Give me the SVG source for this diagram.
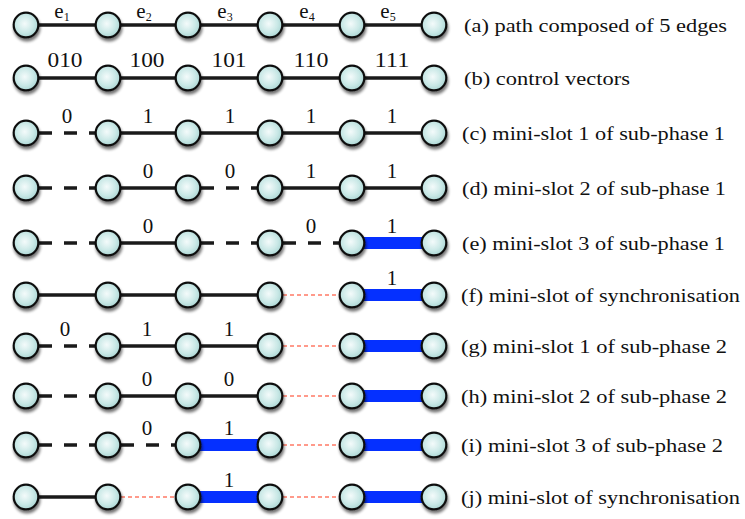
<svg xmlns="http://www.w3.org/2000/svg" width="745" height="519" viewBox="0 0 745 519">
<defs>
<radialGradient id="nf" cx="0.45" cy="0.45" r="0.6">
<stop offset="0" stop-color="#f4fbfb"/>
<stop offset="0.6" stop-color="#c9e8e6"/>
<stop offset="1" stop-color="#a6d3d1"/>
</radialGradient>
<filter id="sh" x="-50%" y="-50%" width="200%" height="200%">
<feGaussianBlur in="SourceAlpha" stdDeviation="1.6"/>
<feOffset dx="1" dy="3" result="b"/>
<feComponentTransfer in="b" result="c"><feFuncA type="linear" slope="0.55"/></feComponentTransfer>
<feMerge><feMergeNode in="c"/><feMergeNode in="SourceGraphic"/></feMerge>
</filter>
<g id="n"><circle r="12.3" fill="url(#nf)" stroke="#111" stroke-width="2.2" filter="url(#sh)"/></g>
</defs>
<style>
.s{stroke:#1a1a1a;stroke-width:3.5;fill:none}
.d{stroke:#1a1a1a;stroke-width:3.5;fill:none;stroke-dasharray:13 12}
.r{stroke:#ff7a66;stroke-width:1.5;fill:none;stroke-dasharray:4 3}
.b{stroke:#0530ff;stroke-width:12;fill:none}
.el{font-size:21px;fill:#111;text-anchor:middle}
.lb{font-size:19px;fill:#111}
</style>
<g id="connectors">
<path class="s" d="M26 25H434"/>
<path class="s" d="M26 78H434"/>
<path class="d" d="M39 133H95"/><path class="s" d="M108 133H434"/>
<path class="d" d="M39 188H95"/><path class="s" d="M108 188H188"/><path class="d" d="M201 188H257"/><path class="s" d="M270 188H434"/>
<path class="d" d="M39 243H95"/><path class="s" d="M108 243H188"/><path class="d" d="M201 243H257"/><path class="d" d="M283 243H339"/><path class="b" d="M352 243H434"/>
<path class="s" d="M26 295H270"/><path class="r" d="M283 295H339"/><path class="b" d="M352 295H434"/>
<path class="d" d="M39 346H95"/><path class="s" d="M108 346H270"/><path class="r" d="M283 346H339"/><path class="b" d="M352 346H434"/>
<path class="d" d="M39 396H95"/><path class="s" d="M108 396H270"/><path class="r" d="M283 396H339"/><path class="b" d="M352 396H434"/>
<path class="d" d="M39 445H95"/><path class="d" d="M121 445H177"/><path class="b" d="M188 445H270"/><path class="r" d="M283 445H339"/><path class="b" d="M352 445H434"/>
<path class="s" d="M26 497H108"/><path class="r" d="M121 497H175"/><path class="b" d="M188 497H270"/><path class="r" d="M283 497H339"/><path class="b" d="M352 497H434"/>
</g>
<g id="edge-labels" font-family="'Nimbus Roman', 'Nimbus Roman No9 L', Tinos, FreeSerif, 'DejaVu Serif', serif">
<text class="el" x="62" y="18" font-size="19">e<tspan font-size="12" dy="3">1</tspan></text>
<text class="el" x="144" y="18" font-size="19">e<tspan font-size="12" dy="3">2</tspan></text>
<text class="el" x="225" y="18" font-size="19">e<tspan font-size="12" dy="3">3</tspan></text>
<text class="el" x="307" y="18" font-size="19">e<tspan font-size="12" dy="3">4</tspan></text>
<text class="el" x="388" y="18" font-size="19">e<tspan font-size="12" dy="3">5</tspan></text>
<text class="el" x="65" y="67" textLength="35" lengthAdjust="spacingAndGlyphs">010</text>
<text class="el" x="147" y="67" textLength="35" lengthAdjust="spacingAndGlyphs">100</text>
<text class="el" x="229" y="67" textLength="35" lengthAdjust="spacingAndGlyphs">101</text>
<text class="el" x="311" y="67" textLength="35" lengthAdjust="spacingAndGlyphs">110</text>
<text class="el" x="392" y="67" textLength="35" lengthAdjust="spacingAndGlyphs">111</text>
<text class="el" x="67" y="123">0</text>
<text class="el" x="148" y="123">1</text>
<text class="el" x="230" y="123">1</text>
<text class="el" x="311" y="123">1</text>
<text class="el" x="392" y="123">1</text>
<text class="el" x="148" y="178">0</text>
<text class="el" x="230" y="178">0</text>
<text class="el" x="311" y="178">1</text>
<text class="el" x="392" y="178">1</text>
<text class="el" x="148" y="233">0</text>
<text class="el" x="311" y="233">0</text>
<text class="el" x="392" y="233">1</text>
<text class="el" x="392" y="285">1</text>
<text class="el" x="65" y="336">0</text>
<text class="el" x="147" y="336">1</text>
<text class="el" x="229" y="336">1</text>
<text class="el" x="147" y="386">0</text>
<text class="el" x="229" y="386">0</text>
<text class="el" x="147" y="435">0</text>
<text class="el" x="229" y="435">1</text>
<text class="el" x="229" y="487">1</text>
</g>
<g id="nodes">
<g id="row-a"><use href="#n" x="26" y="25"/><use href="#n" x="108" y="25"/><use href="#n" x="188" y="25"/><use href="#n" x="270" y="25"/><use href="#n" x="352" y="25"/><use href="#n" x="434" y="25"/></g>
<g id="row-b"><use href="#n" x="26" y="78"/><use href="#n" x="108" y="78"/><use href="#n" x="188" y="78"/><use href="#n" x="270" y="78"/><use href="#n" x="352" y="78"/><use href="#n" x="434" y="78"/></g>
<g id="row-c"><use href="#n" x="26" y="133"/><use href="#n" x="108" y="133"/><use href="#n" x="188" y="133"/><use href="#n" x="270" y="133"/><use href="#n" x="352" y="133"/><use href="#n" x="434" y="133"/></g>
<g id="row-d"><use href="#n" x="26" y="188"/><use href="#n" x="108" y="188"/><use href="#n" x="188" y="188"/><use href="#n" x="270" y="188"/><use href="#n" x="352" y="188"/><use href="#n" x="434" y="188"/></g>
<g id="row-e"><use href="#n" x="26" y="243"/><use href="#n" x="108" y="243"/><use href="#n" x="188" y="243"/><use href="#n" x="270" y="243"/><use href="#n" x="352" y="243"/><use href="#n" x="434" y="243"/></g>
<g id="row-f"><use href="#n" x="26" y="295"/><use href="#n" x="108" y="295"/><use href="#n" x="188" y="295"/><use href="#n" x="270" y="295"/><use href="#n" x="352" y="295"/><use href="#n" x="434" y="295"/></g>
<g id="row-g"><use href="#n" x="26" y="346"/><use href="#n" x="108" y="346"/><use href="#n" x="188" y="346"/><use href="#n" x="270" y="346"/><use href="#n" x="352" y="346"/><use href="#n" x="434" y="346"/></g>
<g id="row-h"><use href="#n" x="26" y="396"/><use href="#n" x="108" y="396"/><use href="#n" x="188" y="396"/><use href="#n" x="270" y="396"/><use href="#n" x="352" y="396"/><use href="#n" x="434" y="396"/></g>
<g id="row-i"><use href="#n" x="26" y="445"/><use href="#n" x="108" y="445"/><use href="#n" x="188" y="445"/><use href="#n" x="270" y="445"/><use href="#n" x="352" y="445"/><use href="#n" x="434" y="445"/></g>
<g id="row-j"><use href="#n" x="26" y="497"/><use href="#n" x="108" y="497"/><use href="#n" x="188" y="497"/><use href="#n" x="270" y="497"/><use href="#n" x="352" y="497"/><use href="#n" x="434" y="497"/></g>
</g>
<g id="captions" font-family="'Nimbus Roman', 'Nimbus Roman No9 L', Tinos, FreeSerif, 'DejaVu Serif', serif">
<text class="lb" x="464" y="32" textLength="263" lengthAdjust="spacingAndGlyphs">(a) path composed of 5 edges</text>
<text class="lb" x="464" y="85" textLength="166" lengthAdjust="spacingAndGlyphs">(b) control vectors</text>
<text class="lb" x="462" y="140" textLength="263" lengthAdjust="spacingAndGlyphs">(c) mini-slot 1 of sub-phase 1</text>
<text class="lb" x="462" y="195" textLength="264" lengthAdjust="spacingAndGlyphs">(d) mini-slot 2 of sub-phase 1</text>
<text class="lb" x="462" y="250" textLength="263" lengthAdjust="spacingAndGlyphs">(e) mini-slot 3 of sub-phase 1</text>
<text class="lb" x="461" y="302" textLength="279" lengthAdjust="spacingAndGlyphs">(f) mini-slot of synchronisation</text>
<text class="lb" x="461" y="353" textLength="266" lengthAdjust="spacingAndGlyphs">(g) mini-slot 1 of sub-phase 2</text>
<text class="lb" x="461" y="403" textLength="266" lengthAdjust="spacingAndGlyphs">(h) mini-slot 2 of sub-phase 2</text>
<text class="lb" x="461" y="452" textLength="262" lengthAdjust="spacingAndGlyphs">(i) mini-slot 3 of sub-phase 2</text>
<text class="lb" x="461" y="504" textLength="279" lengthAdjust="spacingAndGlyphs">(j) mini-slot of synchronisation</text>
</g>
</svg>
